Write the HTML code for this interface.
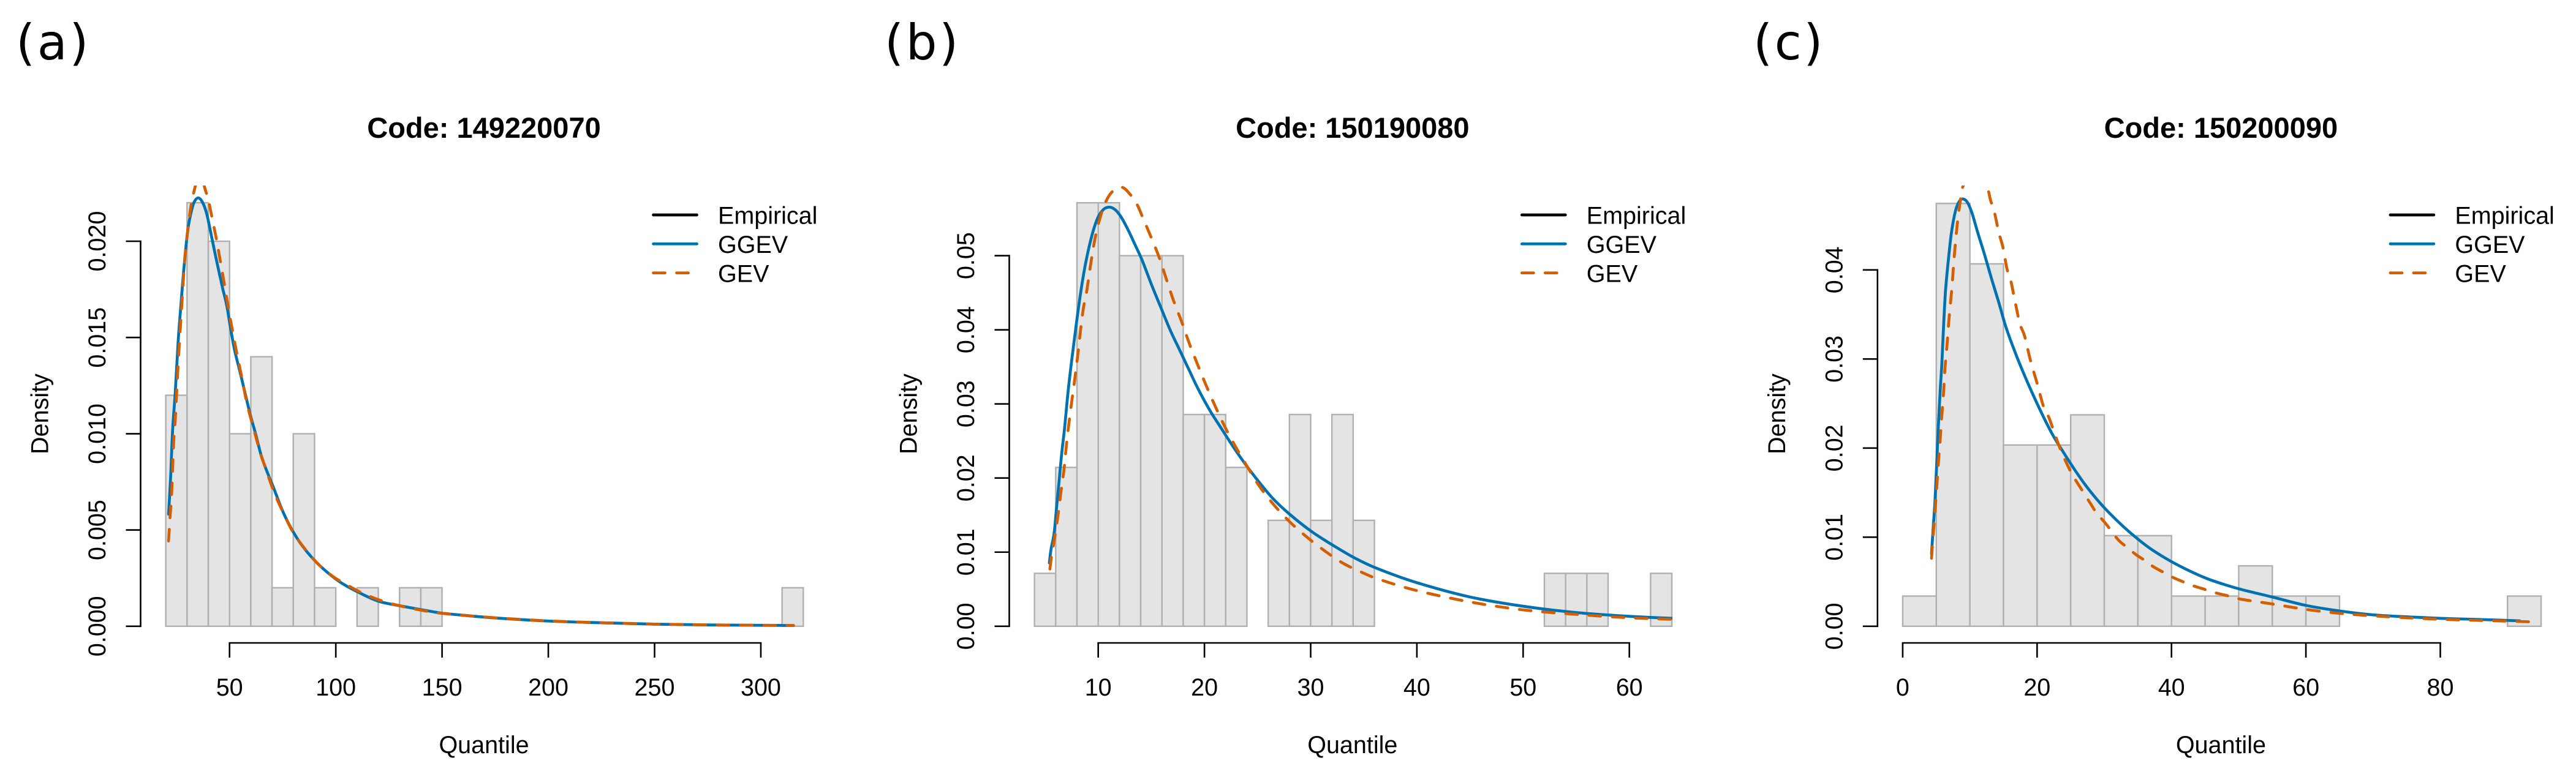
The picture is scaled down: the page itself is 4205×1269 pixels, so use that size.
<!DOCTYPE html>
<html lang="en">
<head>
<meta charset="utf-8">
<title>Density histograms with GGEV and GEV fits</title>
<style>
  html, body { margin: 0; padding: 0; background: #fff; }
  svg { display: block; }
  text { font-family: "Liberation Sans", Arial, sans-serif; fill: #000; }
  .panel-tag { font-family: "DejaVu Sans", sans-serif; font-size: 80px; letter-spacing: 3.5px; }
  .title { font-size: 47px; font-weight: bold; text-anchor: middle; }
  .lab { font-size: 39.5px; text-anchor: middle; }
  .leg { font-size: 39.5px; }
</style>
</head>
<body>
<svg id="figure" xmlns="http://www.w3.org/2000/svg" width="4205" height="1269" viewBox="0 0 4205 1269">
  <defs>
    <clipPath id="clip-a"><rect x="0" y="303" width="1400" height="966"/></clipPath>
    <clipPath id="clip-b"><rect x="1400" y="303" width="1330" height="966"/></clipPath>
    <clipPath id="clip-c"><rect x="2800" y="303" width="1405" height="966"/></clipPath>
  </defs>
  <rect width="4205" height="1269" fill="#fff"/>

  <g id="panel-a">
    <text class="panel-tag" x="26" y="97">(a)</text>
    <text class="title" x="790" y="225">Code: 149220070</text>
    <text class="lab" x="790" y="1230">Quantile</text>
    <text class="lab" transform="translate(78.5 676) rotate(-90)">Density</text>
    <g>
      <line x1="1066.5" x2="1137.5" y1="351" y2="351" stroke="#000" stroke-width="4.7" stroke-linecap="round"/>
      <line x1="1066.5" x2="1137.5" y1="398.3" y2="398.3" stroke="#0072B2" stroke-width="4.7" stroke-linecap="round"/>
      <line x1="1066.5" x2="1137.5" y1="445.7" y2="445.7" stroke="#D55E00" stroke-width="4.7" stroke-dasharray="19 19" stroke-linecap="round"/>
      <text class="leg" x="1172" y="365.5">Empirical</text>
      <text class="leg" x="1172" y="413">GGEV</text>
      <text class="leg" x="1172" y="460.5">GEV</text>
    </g>
  </g>

  <g id="panel-b">
    <text class="panel-tag" x="1444" y="97">(b)</text>
    <text class="title" x="2207.8" y="225">Code: 150190080</text>
    <text class="lab" x="2207.8" y="1230">Quantile</text>
    <text class="lab" transform="translate(1496.3 676) rotate(-90)">Density</text>
    <g>
      <line x1="2484.3" x2="2555.3" y1="351" y2="351" stroke="#000" stroke-width="4.7" stroke-linecap="round"/>
      <line x1="2484.3" x2="2555.3" y1="398.3" y2="398.3" stroke="#0072B2" stroke-width="4.7" stroke-linecap="round"/>
      <line x1="2484.3" x2="2555.3" y1="445.7" y2="445.7" stroke="#D55E00" stroke-width="4.7" stroke-dasharray="19 19" stroke-linecap="round"/>
      <text class="leg" x="2589.8" y="365.5">Empirical</text>
      <text class="leg" x="2589.8" y="413">GGEV</text>
      <text class="leg" x="2589.8" y="460.5">GEV</text>
    </g>
  </g>

  <g id="panel-c">
    <text class="panel-tag" x="2862" y="97">(c)</text>
    <text class="title" x="3625.4" y="225">Code: 150200090</text>
    <text class="lab" x="3625.4" y="1230">Quantile</text>
    <text class="lab" transform="translate(2913.9 676) rotate(-90)">Density</text>
    <g>
      <line x1="3901.9" x2="3972.9" y1="351" y2="351" stroke="#000" stroke-width="4.7" stroke-linecap="round"/>
      <line x1="3901.9" x2="3972.9" y1="398.3" y2="398.3" stroke="#0072B2" stroke-width="4.7" stroke-linecap="round"/>
      <line x1="3901.9" x2="3972.9" y1="445.7" y2="445.7" stroke="#D55E00" stroke-width="4.7" stroke-dasharray="19 19" stroke-linecap="round"/>
      <text class="leg" x="4007.4" y="365.5">Empirical</text>
      <text class="leg" x="4007.4" y="413">GGEV</text>
      <text class="leg" x="4007.4" y="460.5">GEV</text>
    </g>
  </g>
</svg>

<script>
// ---------- Panel (a) data ----------
const breaksA = [20,30,40,50,60,70,80,90,100,110,120,130,140,150,160,170,180,190,200,210,220,230,240,250,260,270,280,290,300,310,320];
const densityA = [0.012,0.022,0.02,0.01,0.014,0.002,0.01,0.002,0,0.002,0,0.002,0.002,0,0,0,0,0,0,0,0,0,0,0,0,0,0,0,0,0.002];
const xTicksA = [50,100,150,200,250,300];
const yTicksA = [0,0.005,0.01,0.015,0.02];
const yTickLabelsA = ["0.000","0.005","0.010","0.015","0.020"];
const ggevQuantileA = [21.3,22.3,23.2,24.5,25.8,27.1,28.5,30.4,32.4,33.8,35.4,37.2,39.1,41,42.9,44.9,46.8,48.7,50.6,52.5,55,57.4,59.8,62.2,65,67.9,70.8,74.7,78.5,83.3,89.1,95.8,102.5,110.2,119.8,129.4,143.8,150,160,175,200,225,250,275,300,315.4];
const ggevDensityA = [0.00582,0.0078,0.01017,0.01223,0.01476,0.01666,0.01856,0.02062,0.02172,0.02212,0.02225,0.02204,0.02149,0.02054,0.01951,0.01848,0.01753,0.01666,0.0154,0.01429,0.01318,0.01207,0.01097,0.01002,0.00883,0.00796,0.00717,0.00606,0.00519,0.00432,0.00353,0.00282,0.00226,0.00179,0.00131,0.00108,0.00079,0.00068,0.00057,0.00043,0.00027,0.00018,0.00011,0.00007,0.00005,0.00004];
const gevQuantileA = [21.3,22,22.8,23.7,24.5,25.6,26.6,27.6,29,30.4,31.9,33.3,34.8,36.2,37.7,38.6,40.1,42,43.9,45.8,47.7,49.7,51.6,53.5,55.9,58.3,61.2,64.1,67,70.8,75.6,80.4,86.2,91.9,98.7,103.5,111.2,119.8,129.4,140,150,175,200,225,250,275,300,315.4];
const gevDensityA = [0.00443,0.00566,0.00701,0.00954,0.01081,0.01318,0.01508,0.01682,0.01919,0.02062,0.02188,0.0226,0.02318,0.0233,0.02302,0.02267,0.02212,0.02109,0.02006,0.01888,0.01769,0.01634,0.01524,0.01413,0.01286,0.01152,0.01033,0.00915,0.0082,0.00701,0.00582,0.00479,0.00392,0.00321,0.00258,0.00226,0.00179,0.00139,0.00108,0.00084,0.00067,0.00044,0.00028,0.00018,0.00011,0.00007,0.00005,0.00004];

// ---------- Panel (b) data ----------
const breaksB = [4,6,8,10,12,14,16,18,20,22,24,26,28,30,32,34,36,38,40,42,44,46,48,50,52,54,56,58,60,62,64];
const densityB = [0.00714,0.02143,0.05714,0.05714,0.05,0.05,0.05,0.02857,0.02857,0.02143,0,0.01429,0.02857,0.01429,0.02857,0.01429,0,0,0,0,0,0,0,0,0.00714,0.00714,0.00714,0,0,0.00714];
const xTicksB = [10,20,30,40,50,60];
const yTicksB = [0,0.01,0.02,0.03,0.04,0.05];
const yTickLabelsB = ["0.00","0.01","0.02","0.03","0.04","0.05"];
const ggevQuantileB = [5.4,5.56,5.84,6.06,6.28,6.55,6.84,7.17,7.54,7.94,8.38,8.82,9.37,9.92,10.48,11.03,11.58,12.13,12.79,13.46,14.12,15,15.88,16.77,17.65,18.53,19.42,20.52,21.62,22.73,23.83,25.15,26.48,28.02,30.01,32,34.2,36.37,40,45,50,55,60,64];
const ggevDensityB = [0.00855,0.0104,0.01245,0.01574,0.01903,0.02314,0.02684,0.03177,0.03629,0.04081,0.04533,0.04903,0.05253,0.05499,0.05622,0.05655,0.05622,0.05528,0.05355,0.0515,0.04944,0.04616,0.04307,0.03999,0.03732,0.03465,0.03198,0.0291,0.02663,0.02417,0.02191,0.01944,0.01718,0.01512,0.01286,0.01101,0.00917,0.00773,0.00588,0.00395,0.0027,0.00185,0.00134,0.00107];
const gevQuantileB = [5.45,5.62,5.84,6.17,6.5,6.79,7.06,7.45,7.76,8.05,8.34,8.6,8.93,9.31,9.7,10.15,10.7,11.36,12.24,13,13.68,14.12,14.93,15.77,16.43,17.1,17.87,18.58,19.37,20.19,21.07,21.95,22.95,24.05,25.15,26.48,28.02,29.57,31.22,32.99,34.75,36.37,40,45,50,55,60,64];
const gevDensityB = [0.00773,0.00958,0.01143,0.01451,0.01821,0.02129,0.02519,0.02972,0.033,0.03629,0.03999,0.04287,0.04533,0.04903,0.05232,0.05499,0.05725,0.05869,0.05923,0.05828,0.05684,0.0554,0.05265,0.04965,0.04677,0.0439,0.04102,0.03814,0.03526,0.03239,0.02951,0.02684,0.02417,0.0215,0.01895,0.01648,0.0141,0.01212,0.01028,0.00855,0.00732,0.00637,0.00481,0.00328,0.00221,0.0016,0.00114,0.00094];

// ---------- Panel (c) data ----------
const breaksC = [0,5,10,15,20,25,30,35,40,45,50,55,60,65,70,75,80,85,90,95];
const densityC = [0.00339,0.04746,0.04068,0.02034,0.02034,0.02373,0.01017,0.01017,0.00339,0.00339,0.00678,0.00339,0.00339,0,0,0,0,0,0.00339];
const xTicksC = [0,20,40,60,80];
const yTicksC = [0,0.01,0.02,0.03,0.04];
const yTickLabelsC = ["0.00","0.01","0.02","0.03","0.04"];
const ggevQuantileC = [4.29,4.54,4.81,5.06,5.3,5.58,5.83,6.1,6.38,6.8,7.26,7.85,8.37,8.9,9.59,10.29,11.16,12.21,13.26,14.3,15.35,16.75,18.14,19.54,20.93,22.33,23.72,25.47,27.21,28.96,30.7,32.79,34.89,36.98,39.77,42.56,45.35,48.14,50.52,55,60,65,70,75,80,85,91.8];
const ggevDensityC = [0.00814,0.01104,0.01412,0.01823,0.02233,0.02643,0.02951,0.03395,0.03772,0.04114,0.04421,0.04661,0.04763,0.04797,0.04763,0.04644,0.04421,0.04165,0.03891,0.03635,0.03361,0.03071,0.02814,0.02575,0.02353,0.02147,0.01976,0.01771,0.01583,0.01419,0.01275,0.01122,0.00985,0.00865,0.00735,0.00626,0.00533,0.00462,0.0041,0.00328,0.00234,0.00172,0.00128,0.00106,0.00089,0.00078,0.00061];
const gevQuantileC = [4.29,4.54,4.81,5.06,5.3,5.58,5.83,6.1,6.28,6.56,6.91,7.33,7.67,8.09,8.55,9,10.2,10.8,11.5,12.56,13.08,13.61,14.3,14.93,15.52,16.05,16.75,17.44,18.14,19.01,20.06,20.93,21.8,22.68,23.72,25.12,26.51,28.08,28.96,30.18,32.1,33.49,34.71,36.11,37.33,38.72,40.12,41.51,42.91,44.65,46.05,47.79,49.36,50.52,55,60,65,70,75,80,85,93.5];
const gevDensityC = [0.00763,0.01019,0.01293,0.01549,0.01823,0.02096,0.0237,0.02643,0.02883,0.03122,0.03464,0.03806,0.04148,0.0449,0.04763,0.04944,0.0508,0.051,0.0508,0.04934,0.0478,0.04661,0.04421,0.0425,0.04011,0.03891,0.03635,0.03395,0.03258,0.02985,0.02712,0.02473,0.02335,0.02147,0.01942,0.01719,0.01548,0.01361,0.01258,0.01156,0.00968,0.00882,0.00804,0.00735,0.00667,0.00609,0.00551,0.00506,0.00462,0.00421,0.00386,0.00352,0.00325,0.00301,0.0025,0.00189,0.00145,0.00117,0.00095,0.00078,0.00067,0.0005];

const SVG_NS = "http://www.w3.org/2000/svg";

function makeEl(parent, tag, attrs) {
  const el = document.createElementNS(SVG_NS, tag);
  for (const k in attrs) el.setAttribute(k, attrs[k]);
  parent.appendChild(el);
  return el;
}

// Smooth path through the read points (Catmull-Rom to cubic Bezier).
function curvePath(xs, ys, xScale, yScale) {
  const p = xs.map((x, i) => [xScale(x), yScale(ys[i])]);
  let d = "M" + p[0][0].toFixed(2) + " " + p[0][1].toFixed(2);
  for (let i = 0; i < p.length - 1; i++) {
    const p0 = p[Math.max(i - 1, 0)], p1 = p[i], p2 = p[i + 1], p3 = p[Math.min(i + 2, p.length - 1)];
    const c1x = p1[0] + (p2[0] - p0[0]) / 6, c1y = p1[1] + (p2[1] - p0[1]) / 6;
    const c2x = p2[0] - (p3[0] - p1[0]) / 6, c2y = p2[1] - (p3[1] - p1[1]) / 6;
    d += "C" + c1x.toFixed(2) + " " + c1y.toFixed(2) + " " + c2x.toFixed(2) + " " + c2y.toFixed(2) + " " + p2[0].toFixed(2) + " " + p2[1].toFixed(2);
  }
  return d;
}

function drawPanel(cfg) {
  const root = document.getElementById(cfg.id);
  const axisY = 1050, baseY = 1022.8, tickLen = 24;
  const xScale = v => cfg.xPx0 + (v - cfg.xVal0) * cfg.xPerUnit;
  const yScale = v => baseY - v * cfg.yPerUnit;

  // histogram
  const hist = makeEl(root, "g", {});
  
  
  cfg.density.forEach((d, i) => {
    const x0 = xScale(cfg.breaks[i]), x1 = xScale(cfg.breaks[i + 1]);
    const rect = makeEl(hist, "rect", {
      x: x0, y: yScale(d), width: x1 - x0, height: baseY - yScale(d),
      fill: "#e4e4e4", stroke: "#b0b0b0", "stroke-width": 2.4
    });
    
    
  });

  // fitted curves
  const blue = makeEl(root, "path", {
    d: curvePath(cfg.ggevX, cfg.ggevY, xScale, yScale),
    fill: "none", stroke: "#0072B2", "stroke-width": 4.7,
    "stroke-linejoin": "round", "stroke-linecap": "round", "clip-path": "url(#" + cfg.clip + ")"
  });
  
  

  const orange = makeEl(root, "path", {
    d: curvePath(cfg.gevX, cfg.gevY, xScale, yScale),
    fill: "none", stroke: "#D55E00", "stroke-width": 4.7, "stroke-dasharray": "19 19",
    "stroke-linejoin": "round", "stroke-linecap": "round", "clip-path": "url(#" + cfg.clip + ")"
  });
  
  

  // x axis
  const xAxis = makeEl(root, "g", {});
  
  
  const xLine = makeEl(xAxis, "line", {
    x1: xScale(cfg.xTicks[0]), x2: xScale(cfg.xTicks[cfg.xTicks.length - 1]), y1: axisY, y2: axisY,
    stroke: "#000", "stroke-width": 2.6, "stroke-linecap": "square"
  });
  
  
  cfg.xTicks.forEach(t => {
    const tick = makeEl(xAxis, "line", {
      x1: xScale(t), x2: xScale(t), y1: axisY, y2: axisY + tickLen, stroke: "#000", "stroke-width": 2.6
    });
    
    
    const label = makeEl(xAxis, "text", { x: xScale(t), y: 1136, "class": "lab" });
    
    
    label.textContent = String(t);
  });

  // y axis
  const yAxis = makeEl(root, "g", {});
  
  
  const yLine = makeEl(yAxis, "line", {
    x1: cfg.axisX, x2: cfg.axisX, y1: yScale(cfg.yTicks[0]), y2: yScale(cfg.yTicks[cfg.yTicks.length - 1]),
    stroke: "#000", "stroke-width": 2.6, "stroke-linecap": "square"
  });
  
  
  cfg.yTicks.forEach((t, i) => {
    const tick = makeEl(yAxis, "line", {
      x1: cfg.axisX - tickLen, x2: cfg.axisX, y1: yScale(t), y2: yScale(t), stroke: "#000", "stroke-width": 2.6
    });
    
    
    const label = makeEl(yAxis, "text", {
      transform: "translate(" + (cfg.axisX - 57.5) + " " + yScale(t) + ") rotate(-90)", "class": "lab"
    });
    
    
    label.textContent = cfg.yTickLabels[i];
  });
}

drawPanel({
  id: "panel-a", clip: "clip-a", axisX: 229.5,
  xVal0: 50, xPx0: 374.7, xPerUnit: 3.469, yPerUnit: 31440,
  breaks: breaksA, density: densityA, xTicks: xTicksA, yTicks: yTicksA, yTickLabels: yTickLabelsA,
  ggevX: ggevQuantileA, ggevY: ggevDensityA, gevX: gevQuantileA, gevY: gevDensityA
});
drawPanel({
  id: "panel-b", clip: "clip-b", axisX: 1647.5,
  xVal0: 10, xPx0: 1792.7, xPerUnit: 17.34, yPerUnit: 12104,
  breaks: breaksB, density: densityB, xTicks: xTicksB, yTicks: yTicksB, yTickLabels: yTickLabelsB,
  ggevX: ggevQuantileB, ggevY: ggevDensityB, gevX: gevQuantileB, gevY: gevDensityB
});
drawPanel({
  id: "panel-c", clip: "clip-c", axisX: 3064.8,
  xVal0: 0, xPx0: 3105.9, xPerUnit: 10.97, yPerUnit: 14550,
  breaks: breaksC, density: densityC, xTicks: xTicksC, yTicks: yTicksC, yTickLabels: yTickLabelsC,
  ggevX: ggevQuantileC, ggevY: ggevDensityC, gevX: gevQuantileC, gevY: gevDensityC
});
</script>
</body>
</html>
